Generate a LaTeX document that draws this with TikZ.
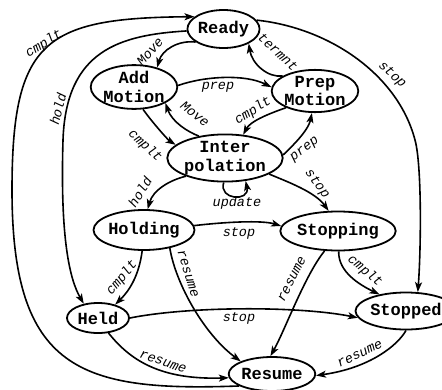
\documentclass[tikz,border=0pt]{standalone}
\usepackage{fontspec}
\setmonofont{Liberation Mono}
\usetikzlibrary{arrows.meta,shapes.geometric}
\begin{document}
\begin{tikzpicture}[x=1pt,y=-1pt,
  state/.style={ellipse,draw,line width=1.8pt,inner sep=0pt,align=center,
    font=\ttfamily\bfseries\fontsize{17}{18.5}\selectfont},
  trans/.style={line width=1.6pt,-{Stealth[length=10pt,width=7pt,inset=2.5pt]}},
  lbl/.style={inner sep=0pt,font=\ttfamily\itshape\fontsize{13.5}{14}\selectfont}]
\useasboundingbox (0,0) rectangle (442,389);

% states
\node[state,minimum width=63,minimum height=38] (ready)    at (223.5,29) {Ready};
\node[state,minimum width=86,minimum height=40] (add)      at (134,87)   {Add\\Motion};
\node[state,minimum width=86,minimum height=39] (prep)     at (315,91)   {Prep\\Motion};
\node[state,minimum width=86,minimum height=47] (inter)    at (225,158)  {Inter\\polation};
\node[state,minimum width=98,minimum height=40] (holding)  at (144,230)  {Holding};
\node[state,minimum width=96,minimum height=39] (stopping) at (338,231)  {Stopping};
\node[state,minimum width=62,minimum height=30] (held)     at (98,318)   {Held};
\node[state,minimum width=82,minimum height=37] (stopped)  at (406,311)  {Stopped};
\node[state,minimum width=86,minimum height=34] (resume)   at (272,374)  {Resume};

% transitions
\draw[trans] (resume.200) .. controls (80,392) and (12,370) .. (12,190)
                          .. controls (12,40) and (45,18) .. (ready.157);
\draw[trans] (ready.183) .. controls (120,35) and (66,50) .. (63,140)
                         .. controls (60,240) and (70,280) .. (held.135);
\draw[trans] (ready.205) .. controls (178,40) and (162,50) .. (add.40);
\draw[trans] (add.2) .. controls (205,76) and (245,74) .. (prep.175);
\draw[trans] (prep.155) .. controls (268,78) and (252,64) .. (ready.-30);
\draw[trans] (ready.15) .. controls (330,28) and (398,75) .. (415,140)
                        .. controls (422,165) and (421,250) .. (stopped.58);
\draw[trans] (prep.210) .. controls (265,115) and (250,122) .. (inter.52);
\draw[trans] (inter.3) .. controls (288,150) and (308,132) .. (prep.-98);
\draw[trans] (inter.140) .. controls (188,132) and (172,122) .. (add.-27);
\draw[trans] (add.-68) .. controls (152,122) and (168,140) .. (inter.165);
\draw[trans] (inter.205) .. controls (170,180) and (153,190) .. (holding.80);
\draw[trans] (inter.-93) .. controls (218,200) and (250,202) .. (inter.-48);
\draw[trans] (inter.-20) .. controls (288,182) and (315,192) .. (stopping.115);
\draw[trans] (holding.5) .. controls (225,222) and (262,220) .. (stopping.175);
\draw[trans] (holding.-95) .. controls (139,275) and (130,290) .. (held.38);
\draw[trans] (holding.-35) .. controls (176,285) and (205,335) .. (resume.158);
\draw[trans] (stopping.-124) .. controls (305,275) and (285,330) .. (resume.95);
\draw[trans] (stopping.-88) .. controls (338,272) and (360,285) .. (stopped.148);
\draw[trans] (held.0) .. controls (190,306) and (300,306) .. (stopped.188);
\draw[trans] (held.-55) .. controls (130,360) and (160,380) .. (resume.185);
\draw[trans] (stopped.-90) .. controls (398,345) and (370,368) .. (resume.-2);

% transition labels
\node[lbl,rotate=32]  (l1)  at (44,44)   {cmplt};
\node[lbl,rotate=76]  (l2)  at (58,109)  {hold};
\node[lbl,rotate=48]  (l3)  at (150,52)  {Move};
\node[lbl]            (l4)  at (218,87)  {prep};
\node[lbl,rotate=-43] (l5)  at (278,52)  {termnt};
\node[lbl,rotate=-43] (l6)  at (392,75)  {stop};
\node[lbl,rotate=33]  (l7)  at (253,111) {cmplt};
\node[lbl,rotate=37]  (l8)  at (305,150) {prep};
\node[lbl,rotate=-38] (l9)  at (195,114) {Move};
\node[lbl,rotate=-43] (l10) at (145,146) {cmplt};
\node[lbl,rotate=58]  (l11) at (140,192) {hold};
\node[lbl]            (l12) at (237,203) {update};
\node[lbl,rotate=-54] (l13) at (317,184) {stop};
\node[lbl]            (l14) at (239,233) {stop};
\node[lbl,rotate=50]  (l15) at (122,278) {cmplt};
\node[lbl,rotate=-73] (l16) at (188,274) {resume};
\node[lbl,rotate=63]  (l17) at (292,279) {resume};
\node[lbl,rotate=-40] (l18) at (365,271) {cmplt};
\node[lbl]            (l19) at (239,318) {stop};
\node[lbl,rotate=-19] (l20) at (163,362) {resume};
\node[lbl,rotate=26]  (l21) at (360,354) {resume};
\end{tikzpicture}
\end{document}
